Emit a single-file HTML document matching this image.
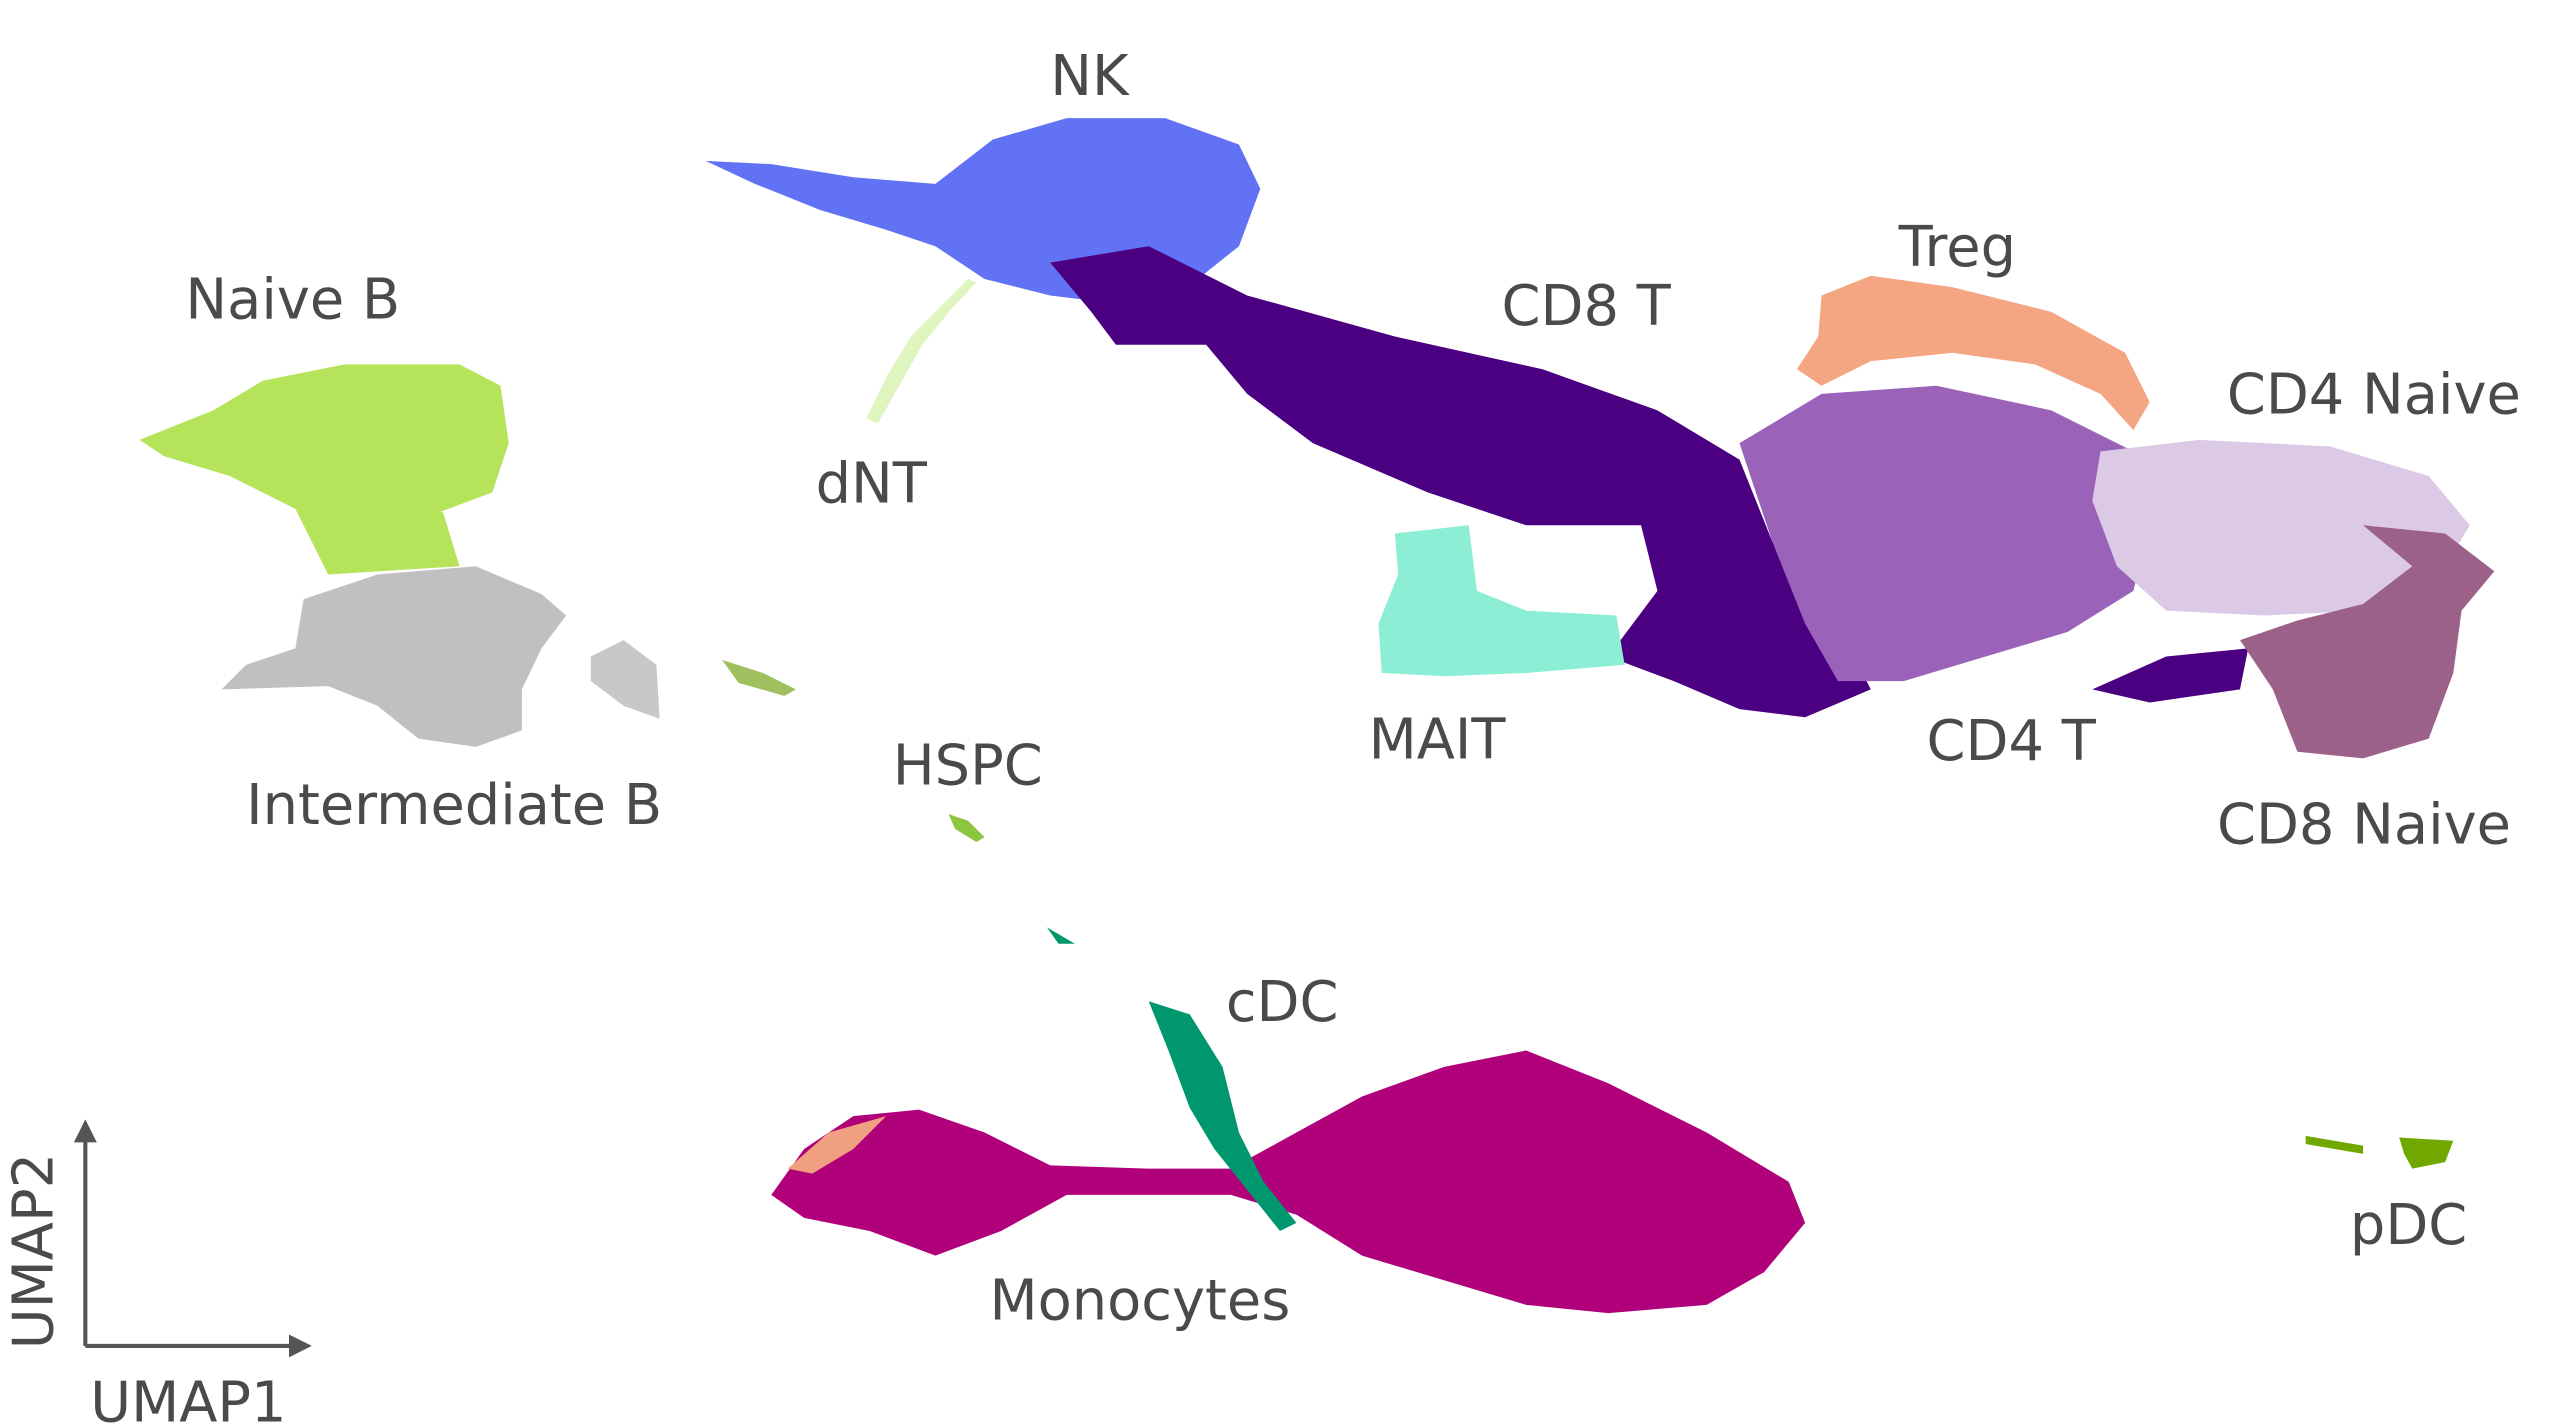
<!DOCTYPE html>
<html><head><meta charset="utf-8"><style>
html,body{margin:0;padding:0;background:#fff;}
svg{display:block;}
text{font-family:"DejaVu Sans","Liberation Sans",sans-serif;fill:#4a4a4a;font-size:34px;}
</style></head><body>
<svg width="2560" height="1428" viewBox="0 0 1560 870" preserveAspectRatio="none" xmlns="http://www.w3.org/2000/svg">
<defs>
<marker id="ar" markerUnits="userSpaceOnUse" markerWidth="14" markerHeight="14" refX="4" refY="7" orient="auto"><path d="M0,0 L14,7 L0,14 z" fill="#555"/></marker>
</defs>
<!-- Naive B -->
<path d="M85,268 L130,250 L160,232 L210,222 L280,222 L305,235 L310,270 L300,300 L260,315 L230,320 L180,310 L140,290 L100,278 Z" fill="#b5e35a"/>
<path d="M180,310 L270,312 L280,345 L200,350 Z" fill="#b5e35a"/>
<!-- Intermediate B -->
<path d="M185,365 L230,350 L290,345 L330,362 L345,375 L330,395 L318,420 L318,445 L290,455 L255,450 L230,430 L200,418 L135,420 L150,405 L180,395 Z" fill="#c0c0c0"/>
<path d="M360,400 L380,390 L400,405 L402,438 L380,430 L360,415Z" fill="#c8c8c8"/>
<path d="M440,402 L465,410 L485,420 L478,424 L450,416 Z" fill="#a0c060"/>
<!-- NK -->
<path d="M430,98 L470,100 L520,108 L570,112 L605,85 L650,72 L710,72 L755,88 L768,115 L755,150 L720,178 L680,185 L640,180 L600,170 L570,150 L540,140 L500,128 L460,112 Z" fill="#6272f5"/>
<!-- dNT -->
<path d="M590,170 L575,185 L555,205 L540,230 L528,255 L535,258 L548,235 L562,210 L580,188 L595,172Z" fill="#dff5c0"/>
<!-- Treg -->
<path d="M1110,180 L1140,168 L1190,175 L1250,190 L1295,215 L1310,245 L1300,262 L1280,240 L1240,222 L1190,215 L1140,220 L1110,235 L1095,225 L1108,205Z" fill="#f4a582"/>
<!-- CD8 T / CD4 T dark purple -->
<path d="M640,160 L700,150 L760,180 L850,205 L940,225 L1010,250 L1060,280 L1080,330 L1120,380 L1140,420 L1100,437 L1060,432 L1020,415 L980,400 L1010,360 L1000,320 L930,320 L870,300 L800,270 L760,240 L735,210 L680,210 L665,190Z" fill="#4b0082"/>
<path d="M1275,420 L1320,400 L1370,395 L1365,420 L1310,428Z" fill="#4b0082"/>
<!-- MAIT -->
<path d="M850,325 L895,320 L900,360 L930,372 L985,375 L990,405 L930,410 L880,412 L842,410 L840,380 L852,350Z" fill="#8ceed4"/>
<!-- CD4 T -->
<path d="M1060,270 L1110,240 L1180,235 L1250,250 L1300,275 L1310,320 L1300,360 L1260,385 L1210,400 L1160,415 L1120,415 L1100,380 L1080,330Z" fill="#9a62b8"/>
<!-- CD4 Naive -->
<path d="M1280,275 L1340,268 L1420,272 L1480,290 L1505,320 L1490,345 L1440,372 L1380,375 L1320,372 L1290,345 L1275,305Z" fill="#dcc9e6"/>
<!-- CD8 Naive -->
<path d="M1440,320 L1490,325 L1520,348 L1500,372 L1495,410 L1480,450 L1440,462 L1400,458 L1385,420 L1365,390 L1400,378 L1440,368 L1470,345Z" fill="#9c6189"/>
<!-- HSPC -->
<path d="M578,496 L590,500 L600,510 L595,513 L582,505Z" fill="#8cc63f"/>
<!-- Monocytes -->
<path d="M470,728 L490,700 L520,680 L560,676 L600,690 L640,710 L700,712 L750,712 L790,690 L830,668 L880,650 L930,640 L980,660 L1040,690 L1090,720 L1100,745 L1075,775 L1040,795 L980,800 L930,795 L880,780 L830,765 L790,740 L750,728 L700,728 L650,728 L610,750 L570,765 L530,750 L490,742Z" fill="#b0007a"/>
<path d="M480,712 L505,690 L540,680 L520,700 L495,715Z" fill="#f0a080"/>
<!-- cDC -->
<path d="M638,565 L655,575 L645,575Z" fill="#00966e"/>
<path d="M700,610 L725,618 L745,650 L755,690 L770,720 L790,745 L780,750 L760,725 L740,700 L725,675 L712,640Z" fill="#00966e"/>
<!-- pDC -->
<path d="M1405,692 L1440,698 L1440,703 L1405,697Z" fill="#70a800"/>
<path d="M1462,693 L1495,695 L1490,708 L1470,712 L1465,703Z" fill="#70a800"/>
<!-- axes -->
<line x1="52" y1="820" x2="52" y2="692" stroke="#555" stroke-width="2.5" marker-end="url(#ar)"/>
<line x1="52" y1="820" x2="180" y2="820" stroke="#555" stroke-width="2.5" marker-end="url(#ar)"/>
<text x="55" y="866">UMAP1</text>
<text transform="translate(32,822) rotate(-90)">UMAP2</text>
<!-- labels -->
<text x="640" y="58">NK</text>
<text x="113" y="194">Naive B</text>
<text x="497" y="306">dNT</text>
<text x="915" y="198">CD8 T</text>
<text x="1157" y="162">Treg</text>
<text x="1357" y="252">CD4 Naive</text>
<text x="150" y="502">Intermediate B</text>
<text x="544" y="478">HSPC</text>
<text x="834" y="462">MAIT</text>
<text x="1174" y="463">CD4 T</text>
<text x="1351" y="514">CD8 Naive</text>
<text x="747" y="622">cDC</text>
<text x="603" y="804">Monocytes</text>
<text x="1432" y="758">pDC</text>
</svg>
</body></html>
